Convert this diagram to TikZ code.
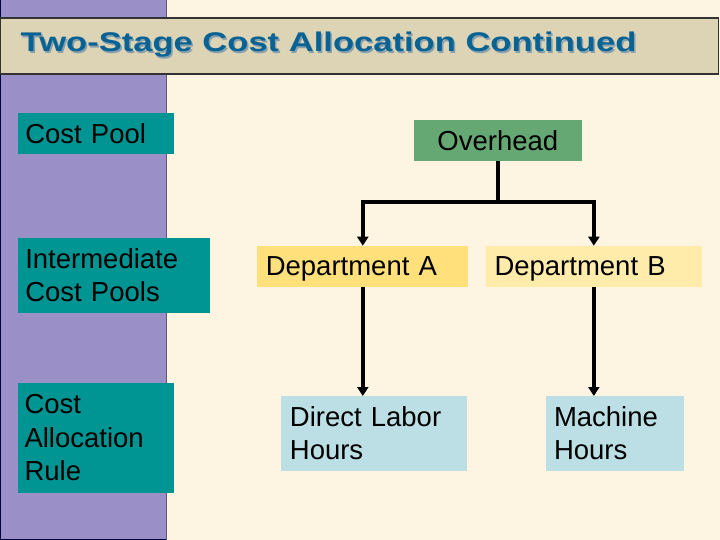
\documentclass[tikz,border=0pt]{standalone}
\usepackage{fontspec}
\setmainfont{Liberation Sans}
\usetikzlibrary{arrows.meta}
\definecolor{cream}{RGB}{253,245,225}
\definecolor{lilac}{RGB}{154,143,199}
\definecolor{tan}{RGB}{221,211,181}
\definecolor{titleblue}{RGB}{8,98,148}
\definecolor{titleshade}{RGB}{135,160,172}
\definecolor{poolteal}{RGB}{0,148,146}
\definecolor{ohgreen}{RGB}{102,168,115}
\definecolor{deptA}{RGB}{255,224,122}
\definecolor{deptB}{RGB}{255,236,170}
\definecolor{rulecyan}{RGB}{187,223,228}
\begin{document}
\begin{tikzpicture}[x=1pt,y=-1pt,>={Triangle[width=11pt, length=9pt]}]
\tikzstyle{every node} = [inner sep=0pt, outer sep=0pt, font=\fontsize{27.5}{33.5}\selectfont];
\tikzstyle{stage} = [fill=poolteal, anchor=north west, align=left, inner xsep=7pt];
\tikzstyle{pool} = [anchor=north west, align=left, inner xsep=8.5pt];
\tikzstyle{link} = [line width=4pt, black];
\useasboundingbox (0,0) rectangle (720,540);
\fill[cream] (0,0) rectangle (720,540);
\filldraw[fill=lilac, draw=black!75!blue, line width=1pt] (0.5,-2) rectangle (166,539.5);
\draw[lilac!60!black, line width=0.8pt] (166,0) -- (166,540);
\filldraw[fill=tan, draw=black!80, line width=1.2pt] (0.5,18) rectangle (718.5,74);
\node[anchor=base west, text=titleshade, font=\fontsize{27}{30}\selectfont\bfseries] (tshadow) at (22.2,53.2) {\scalebox{1.28}[1]{Two-Stage Cost Allocation Continued}};
\node[anchor=base west, text=titleblue, font=\fontsize{27}{30}\selectfont\bfseries] (title) at (20.7,51.7) {\scalebox{1.28}[1]{Two-Stage Cost Allocation Continued}};
\node[stage, text width=142pt, minimum height=41.5pt, text depth=0pt] (1) at (18.3,112.8) {Cost Pool};
\node[stage, text width=177.7pt, minimum height=75pt] (2) at (18.3,237.8) {Intermediate\\Cost Pools};
\node[stage, text width=142pt, minimum height=110pt] (3) at (17.5,382.8) {Cost\\Allocation\\Rule};
\node[fill=ohgreen, minimum width=167.7pt, minimum height=41pt, anchor=north west, text depth=0pt] (over) at (414,120) {Overhead};
\node[pool, fill=deptA, text width=194pt, minimum height=41pt, text depth=0pt] (depa) at (257.3,245.7) {Department A};
\node[pool, fill=deptB, text width=198.7pt, minimum height=41pt, text depth=0pt] (depb) at (486,245.7) {Department B};
\node[pool, fill=rulecyan, text width=169pt, minimum height=74.7pt] (dlh) at (281.4,396) {Direct Labor\\Hours};
\node[pool, fill=rulecyan, text width=121.5pt, minimum height=74.7pt] (mh) at (545.5,396) {Machine\\Hours};
\coordinate (fork) at (over.south |- 0,202);
\draw[link] (over.south) -- (fork);
\draw[link, <->] (depa.north) |- (fork) -| (depb.north);
\draw[link, ->] (depa.south) -- (depa.south |- dlh.north);
\draw[link, ->] (depb.south) -- (depb.south |- mh.north);
\end{tikzpicture}
\end{document}
